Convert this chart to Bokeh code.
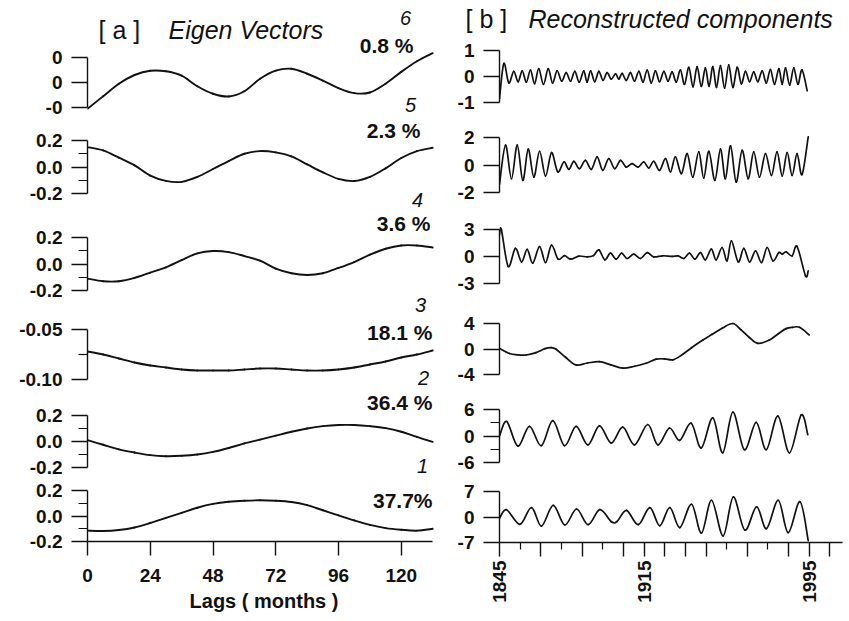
import math
from bokeh.plotting import figure
from bokeh.layouts import column, row
from bokeh.models import Range1d, FixedTicker, PrintfTickFormatter, Label
from bokeh.embed import file_html
from bokeh.resources import INLINE

# ------------------------------------------------------------------
# DATA  -- panel [a]: eigenvectors (value vs lag, months)
# ------------------------------------------------------------------
lags = [0, 6, 12, 18, 24, 30, 36, 42, 48, 54, 60, 66, 72, 78, 84, 90,
        96, 102, 108, 114, 120, 126, 132]

ev6 = [-0.21, -0.11, -0.01, 0.06, 0.094, 0.09, 0.055, -0.03, -0.09, -0.112,
       -0.07, 0.03, 0.095, 0.11, 0.07, 0.015, -0.045, -0.085, -0.08, -0.01,
       0.085, 0.17, 0.235]
ev5 = [0.15, 0.125, 0.07, 0.012, -0.065, -0.105, -0.112, -0.075, -0.015, 0.045,
       0.10, 0.12, 0.11, 0.08, 0.02, -0.04, -0.09, -0.106, -0.075, -0.01,
       0.068, 0.12, 0.145]
ev4 = [-0.11, -0.13, -0.13, -0.105, -0.065, -0.025, 0.03, 0.08, 0.098, 0.09,
       0.06, 0.025, -0.035, -0.07, -0.083, -0.07, -0.03, 0.015, 0.07, 0.115,
       0.14, 0.14, 0.125]
ev3 = [-0.072, -0.075, -0.079, -0.083, -0.086, -0.088, -0.090, -0.091, -0.091, -0.091,
       -0.090, -0.089, -0.089, -0.090, -0.091, -0.091, -0.090, -0.088, -0.085, -0.082,
       -0.078, -0.075, -0.071]
ev2 = [0.01, -0.025, -0.06, -0.085, -0.105, -0.113, -0.11, -0.10, -0.08, -0.05,
       -0.015, 0.015, 0.045, 0.075, 0.10, 0.118, 0.127, 0.127, 0.118, 0.103,
       0.075, 0.035, -0.003]
ev1 = [-0.115, -0.118, -0.11, -0.09, -0.055, -0.015, 0.025, 0.065, 0.095, 0.112,
       0.12, 0.123, 0.12, 0.11, 0.085, 0.045, 0.005, -0.035, -0.07, -0.095,
       -0.108, -0.115, -0.10]

ev_series = [ev6, ev5, ev4, ev3, ev2, ev1]
ev_numbers = ["6", "5", "4", "3", "2", "1"]
ev_percent = ["0.8 %", "2.3 %", "3.6 %", "18.1 %", "36.4 %", "37.7%"]
ev_yticks = [[-0.2, 0.0, 0.2], [-0.2, 0.0, 0.2], [-0.2, 0.0, 0.2],
             [-0.10, -0.05], [-0.2, 0.0, 0.2], [-0.2, 0.0, 0.2]]
ev_yminor = [[], [-0.1, 0.1], [-0.1, 0.1], [-0.075], [-0.1, 0.1], [-0.1, 0.1]]
ev_yfmt = ["%.0f", "%.1f", "%.1f", "%.2f", "%.1f", "%.1f"]
lag_ticks = [0, 24, 48, 72, 96, 120]

# ------------------------------------------------------------------
# DATA  -- panel [b]: reconstructed components (year, value) at turning points
# ------------------------------------------------------------------
rc6 = [(1845.0, -0.85), (1847.1, 0.50), (1849.5, -0.25), (1851.9, 0.20), (1854.0, -0.20),
       (1856.0, 0.22), (1858.0, -0.22), (1860.0, 0.25), (1862.0, -0.28), (1864.0, 0.30),
       (1866.3, -0.30), (1868.6, 0.30), (1870.7, -0.25), (1872.9, 0.22), (1875.1, -0.18),
       (1877.3, 0.15), (1879.4, -0.18), (1881.5, 0.20), (1883.6, -0.22), (1885.8, 0.22),
       (1887.4, -0.22), (1889.1, 0.22), (1891.1, -0.20), (1893.1, 0.20), (1895.1, -0.15),
       (1897.1, 0.15), (1899.1, -0.10), (1901.2, 0.10), (1902.8, -0.10), (1904.4, 0.12),
       (1906.4, -0.15), (1908.4, 0.15), (1910.4, -0.18), (1912.5, 0.20), (1914.5, -0.22),
       (1916.5, 0.25), (1918.5, -0.25), (1920.5, 0.22), (1922.5, -0.20), (1924.6, 0.20),
       (1926.6, -0.18), (1928.6, 0.18), (1930.6, -0.22), (1932.6, 0.25), (1934.6, -0.30),
       (1936.7, 0.35), (1938.7, -0.40), (1940.7, 0.38), (1942.7, -0.38), (1944.7, 0.33),
       (1946.5, -0.38), (1948.3, 0.38), (1950.1, -0.42), (1952.0, 0.42), (1954.0, -0.45),
       (1956.0, 0.45), (1958.0, -0.42), (1960.1, 0.35), (1962.1, -0.28), (1964.1, 0.20),
       (1966.1, -0.20), (1968.1, 0.18), (1970.1, -0.20), (1972.2, 0.22), (1974.2, -0.25),
       (1976.2, 0.27), (1978.2, -0.30), (1980.3, 0.30), (1981.9, -0.30), (1983.5, 0.33),
       (1985.5, -0.33), (1987.5, 0.33), (1989.5, -0.30), (1991.5, 0.25), (1994.0, -0.55)]

rc5 = [(1845.0, -1.40), (1847.9, 1.44), (1850.8, -1.00), (1853.6, 1.44), (1856.3, -1.12),
       (1858.9, 1.15), (1861.6, -0.88), (1864.4, 1.00), (1867.3, -0.80), (1870.2, 0.90),
       (1873.2, -0.50), (1876.2, 0.22), (1878.6, -0.32), (1881.0, 0.27), (1883.7, -0.27),
       (1886.6, 0.34), (1889.5, -0.32), (1892.3, 0.59), (1895.0, -0.39), (1897.9, 0.46),
       (1900.8, -0.27), (1903.6, 0.34), (1906.3, -0.15), (1909.2, 0.10), (1912.1, -0.15),
       (1914.9, 0.22), (1917.3, -0.22), (1919.7, 0.27), (1922.5, -0.39), (1925.4, 0.46),
       (1927.8, -0.50), (1930.2, 0.59), (1933.1, -0.63), (1935.9, 0.83), (1938.6, -0.88),
       (1941.5, 0.95), (1943.9, -0.95), (1946.4, 1.00), (1949.3, -1.12), (1952.0, 1.15),
       (1954.4, -1.00), (1956.9, 1.39), (1959.6, -1.24), (1962.5, 1.07), (1965.4, -1.00),
       (1968.1, 0.95), (1970.9, -0.88), (1973.8, 0.83), (1976.7, -0.76), (1979.4, 0.95),
       (1981.9, -0.80), (1984.3, 0.90), (1986.7, -0.76), (1989.1, 0.83), (1991.5, -0.70),
       (1994.5, 2.05)]

rc4 = [(1845.0, 2.40), (1845.9, 3.00), (1849.2, -1.10), (1852.7, 0.90), (1855.7, -0.60),
       (1858.4, 0.80), (1861.1, -0.74), (1864.4, 1.10), (1867.3, -0.67), (1870.2, 1.26),
       (1873.4, -0.30), (1876.5, 0.10), (1879.4, -0.30), (1883.5, 0.05), (1887.5, -0.05),
       (1890.5, 0.10), (1893.1, 0.74), (1896.0, -0.37), (1898.7, 0.37), (1901.5, -0.30),
       (1904.1, 0.37), (1906.8, -0.22), (1910.0, 0.26), (1913.3, -0.22), (1916.5, 0.44),
       (1919.7, -0.04), (1924.0, 0.08), (1928.6, 0.02), (1931.5, 0.06), (1934.3, -0.22),
       (1937.0, 0.37), (1939.6, -0.30), (1942.3, 0.44), (1944.7, -0.37), (1947.6, 0.81),
       (1949.9, -0.37), (1952.8, 1.00), (1955.2, -0.48), (1957.3, 1.74), (1960.6, -0.60),
       (1963.3, 0.90), (1966.1, -0.60), (1969.0, 0.63), (1971.9, -0.67), (1974.6, 1.00),
       (1977.4, -0.48), (1980.3, 0.44), (1981.9, 0.26), (1983.8, 0.52), (1986.7, 0.07),
       (1989.1, 1.11), (1993.2, -2.15), (1994.5, -1.60)]

rc3 = [(1845.0, 0.10), (1849.8, -0.70), (1853.5, -0.90), (1857.9, -0.94), (1862.7, -0.57),
       (1867.0, 0.05), (1870.0, 0.21), (1872.4, -0.05), (1877.0, -1.30), (1882.1, -2.50),
       (1887.5, -2.20), (1893.4, -1.98), (1899.0, -2.50), (1904.7, -3.00), (1910.5, -2.70),
       (1916.0, -2.24), (1920.9, -1.60), (1925.0, -1.55), (1928.9, -1.70), (1933.0, -1.00),
       (1938.0, 0.20), (1943.5, 1.40), (1948.0, 2.30), (1953.0, 3.30), (1958.0, 4.00),
       (1962.0, 3.00), (1966.0, 1.80), (1970.1, 0.88), (1975.7, 1.40), (1980.0, 2.40),
       (1983.8, 3.20), (1987.0, 3.40), (1990.3, 3.40), (1995.0, 2.20)]

rc2 = [(1845.0, 0.00), (1848.5, 3.30), (1853.9, -2.30), (1859.5, 2.20), (1865.2, -2.20),
       (1870.8, 3.50), (1876.5, -2.20), (1882.1, 2.20), (1887.8, -2.00), (1893.4, 2.30),
       (1899.1, -1.60), (1904.7, 2.00), (1910.4, -2.00), (1916.8, 2.60), (1921.7, -2.00),
       (1927.3, 1.80), (1932.2, -1.00), (1937.8, 2.90), (1942.7, -2.70), (1948.3, 4.10),
       (1953.1, -3.80), (1958.0, 5.40), (1963.6, -3.10), (1969.3, 3.10), (1974.2, -3.10),
       (1979.8, 4.50), (1985.4, -3.80), (1991.1, 4.80), (1994.3, 0.30)]

rc1 = [(1845.0, -0.40), (1848.4, 2.00), (1854.9, -2.00), (1860.5, 2.60), (1865.3, -2.50),
       (1871.0, 3.20), (1876.6, -2.20), (1882.3, 2.20), (1887.9, -2.10), (1893.6, 2.00),
       (1899.2, -1.30), (1902.0, -1.20), (1906.5, 1.80), (1912.2, -2.10), (1917.8, 2.60),
       (1922.6, -2.40), (1927.5, 2.60), (1932.3, -2.90), (1938.0, 3.50), (1942.8, -4.40),
       (1947.7, 4.60), (1953.3, -5.20), (1958.2, 5.50), (1963.8, -3.60), (1969.5, 2.80),
       (1974.3, -3.20), (1980.0, 4.60), (1984.8, -4.30), (1990.5, 4.20), (1994.5, -6.50)]

rc_series = [rc6, rc5, rc4, rc3, rc2, rc1]
rc_yticks = [[-1, 0, 1], [-2, 0, 2], [-3, 0, 3], [-4, 0, 4], [-6, 0, 6], [-7, 0, 7]]
rc_yminor = [[], [], [], [], [-3, 3], []]
year_ticks = [1845, 1865, 1885, 1905, 1915, 1925, 1935, 1945, 1965, 1985, 1995, 2005]
year_minor = [1855, 1875, 1895, 1955, 1975]
year_labels = [1845, 1915, 1995]

# ------------------------------------------------------------------
# LAYOUT / STYLE   (all positions in canvas pixels)
# ------------------------------------------------------------------
FONT = "Liberation Sans"
INK = "#111111"
L_W, R_W = 448, 401
L_BL, L_BR = 87, 8
R_BL, R_BR = 51, 7
L_XR = (0, 135)
R_XR = (1845, 1845 + (R_W - R_BL - R_BR) / 2.065)
TITLE_H = 36
# (figure top, figure bottom, frame bottom, px of top major tick, px of bottom major tick)
left_rows = [(0, 118, 118, 57, 107), (118, 211, 211, 140, 193), (211, 316, 316, 237, 290),
             (316, 390, 390, 329, 379), (390, 478, 478, 415, 467), (478, 618, 541, 490, 541)]
right_rows = [(TITLE_H, 115, 115, 50, 102), (115, 210, 210, 137, 192), (210, 302, 302, 229, 283),
              (302, 390, 390, 323, 374), (390, 475, 475, 409, 462), (475, 618, 542, 491, 542)]


def build(col_x, width, bl, br, xr, rowspec, ticks, minor, fmt):
    top, bot, fbot, phi, plo = rowspec
    vhi, vlo = max(ticks), min(ticks)
    s = (vhi - vlo) / (plo - phi)
    y1 = vhi + (phi - top) * s
    y0 = vlo - (fbot - plo) * s
    p = figure(width=width, height=bot - top, x_range=Range1d(*xr), y_range=Range1d(y0, y1),
               output_backend="svg", toolbar_location=None, title=None,
               x_axis_location="below" if fbot < bot else None,
               min_border_left=bl, min_border_right=br, min_border_top=0,
               min_border_bottom=bot - fbot)
    p.grid.visible = False
    p.outline_line_color = None
    p.background_fill_color = "white"
    p.border_fill_color = "white"
    ax = p.yaxis[0]
    ax.ticker = FixedTicker(ticks=ticks, minor_ticks=minor)
    ax.formatter = PrintfTickFormatter(format=fmt)
    ax.bounds = (vlo, vhi)
    ax.axis_line_color = INK
    ax.axis_line_width = 1.4
    ax.major_tick_line_color = INK
    ax.major_tick_line_width = 1.4
    ax.major_tick_out = 16
    ax.major_tick_in = 0
    ax.minor_tick_line_color = INK
    ax.minor_tick_line_width = 1.2
    ax.minor_tick_out = 9
    ax.minor_tick_in = 0
    ax.major_label_text_font = FONT
    ax.major_label_text_font_style = "bold"
    ax.major_label_text_font_size = "19px"
    ax.major_label_text_color = INK
    ax.major_label_standoff = 9
    frame_left = col_x + bl
    ppx = (width - bl - br) / (xr[1] - xr[0])

    def to_data(cx, cy):
        return xr[0] + (cx - frame_left) / ppx, y1 - (cy - top) * s
    return p, to_data


def put(p, to_data, cx, cy, text, size, style, align):
    x, y = to_data(cx, cy)
    p.add_layout(Label(x=x, y=y, text=text, text_font=FONT, text_font_size=size,
                       text_font_style=style, text_align=align, text_baseline="middle",
                       text_color=INK))


def smooth_curve(p, xs, ys, width):
    # Catmull-Rom rendering of the read points as cubic Bezier segments
    n = len(xs)
    seg = dict(x0=[], y0=[], x1=[], y1=[], cx0=[], cy0=[], cx1=[], cy1=[])
    for i in range(n - 1):
        xa, ya, xb, yb = xs[i], ys[i], xs[i + 1], ys[i + 1]
        xp, yp = (xs[i - 1], ys[i - 1]) if i > 0 else (xa, ya)
        xn, yn = (xs[i + 2], ys[i + 2]) if i + 2 < n else (xb, yb)
        seg["x0"].append(xa); seg["y0"].append(ya)
        seg["x1"].append(xb); seg["y1"].append(yb)
        seg["cx0"].append(xa + (xb - xp) / 6.0); seg["cy0"].append(ya + (yb - yp) / 6.0)
        seg["cx1"].append(xb - (xn - xa) / 6.0); seg["cy1"].append(yb - (yn - ya) / 6.0)
    p.bezier(line_color=INK, line_width=width, line_cap="round", **seg)


def style_xaxis(ax):
    ax.axis_line_color = INK
    ax.axis_line_width = 1.4
    ax.major_tick_line_color = INK
    ax.major_tick_line_width = 1.4
    ax.major_tick_out = 14
    ax.major_tick_in = 0
    ax.minor_tick_line_color = INK
    ax.minor_tick_line_width = 1.2
    ax.minor_tick_out = 7
    ax.minor_tick_in = 0
    ax.major_label_text_font = FONT
    ax.major_label_text_font_style = "bold"
    ax.major_label_text_font_size = "19px"
    ax.major_label_text_color = INK


# number / percent label positions (canvas px) for the left column
num_pos = [(0, 405, 17), (0, 410, 104), (1, 417, 199), (2, 420, 304), (3, 423, 377), (4, 422, 465)]
pct_pos = [(0, 413, 45), (1, 420, 130), (2, 430, 223), (3, 432, 332), (4, 432, 402), (5, 432, 500)]

left_figs, left_map = [], []
for i in range(6):
    p, td = build(0, L_W, L_BL, L_BR, L_XR, left_rows[i], ev_yticks[i], ev_yminor[i], ev_yfmt[i])
    if i == 0:
        p.yaxis[0].major_label_overrides = {0.2: "0", 0.0: "0", -0.2: "-0"}
    smooth_curve(p, lags, ev_series[i], 1.9)
    left_figs.append(p)
    left_map.append(td)

for k, (fi, cx, cy) in enumerate(num_pos):
    put(left_figs[fi], left_map[fi], cx, cy, ev_numbers[k], "20px", "italic", "center")
for k, (fi, cx, cy) in enumerate(pct_pos):
    put(left_figs[fi], left_map[fi], cx, cy, ev_percent[k], "21px", "bold", "right")

put(left_figs[0], left_map[0], 98, 29, "[ a ]", "25px", "normal", "left")
put(left_figs[0], left_map[0], 168, 29, "Eigen Vectors", "25px", "italic", "left")

pb = left_figs[-1]
xa = pb.xaxis[0]
xa.ticker = FixedTicker(ticks=lag_ticks, minor_ticks=[])
xa.bounds = (0, 132)
style_xaxis(xa)
xa.major_label_standoff = 13
xa.axis_label = "Lags ( months )"
xa.axis_label_text_font = FONT
xa.axis_label_text_font_style = "bold"
xa.axis_label_text_font_size = "20px"
xa.axis_label_text_color = INK
xa.axis_label_standoff = 5

# title strip of the right column (own frame, not aligned with the panels below)
tp = figure(width=R_W, height=TITLE_H, x_range=Range1d(0, R_W), y_range=Range1d(0, TITLE_H),
            output_backend="svg", toolbar_location=None, title=None,
            x_axis_location=None, y_axis_location=None, min_border=0)
if "frame_align" in tp.properties():
    tp.frame_align = False
tp.grid.visible = False
tp.outline_line_color = None
tp.background_fill_color = "white"
tp.border_fill_color = "white"


def title_xy(cx, cy):
    return cx - L_W, TITLE_H - cy


put(tp, title_xy, 465, 18, "[ b ]", "25px", "normal", "left")
put(tp, title_xy, 528, 18, "Reconstructed components", "25px", "italic", "left")

right_figs = [tp]
for i in range(6):
    p, td = build(L_W, R_W, R_BL, R_BR, R_XR, right_rows[i], rc_yticks[i], rc_yminor[i], "%d")
    xs = [pt[0] for pt in rc_series[i]]
    ys = [pt[1] for pt in rc_series[i]]
    smooth_curve(p, xs, ys, 1.7)
    right_figs.append(p)

rb = right_figs[-1]
xr_ax = rb.xaxis[0]
xr_ax.ticker = FixedTicker(ticks=year_ticks, minor_ticks=year_minor)
style_xaxis(xr_ax)
xr_ax.major_label_overrides = {t: "" for t in year_ticks if t not in year_labels}
xr_ax.major_label_orientation = math.pi / 2
xr_ax.major_label_standoff = 4

layout = row(column(*left_figs), column(*right_figs))
open("out.html", "w").write(file_html(layout, INLINE))
